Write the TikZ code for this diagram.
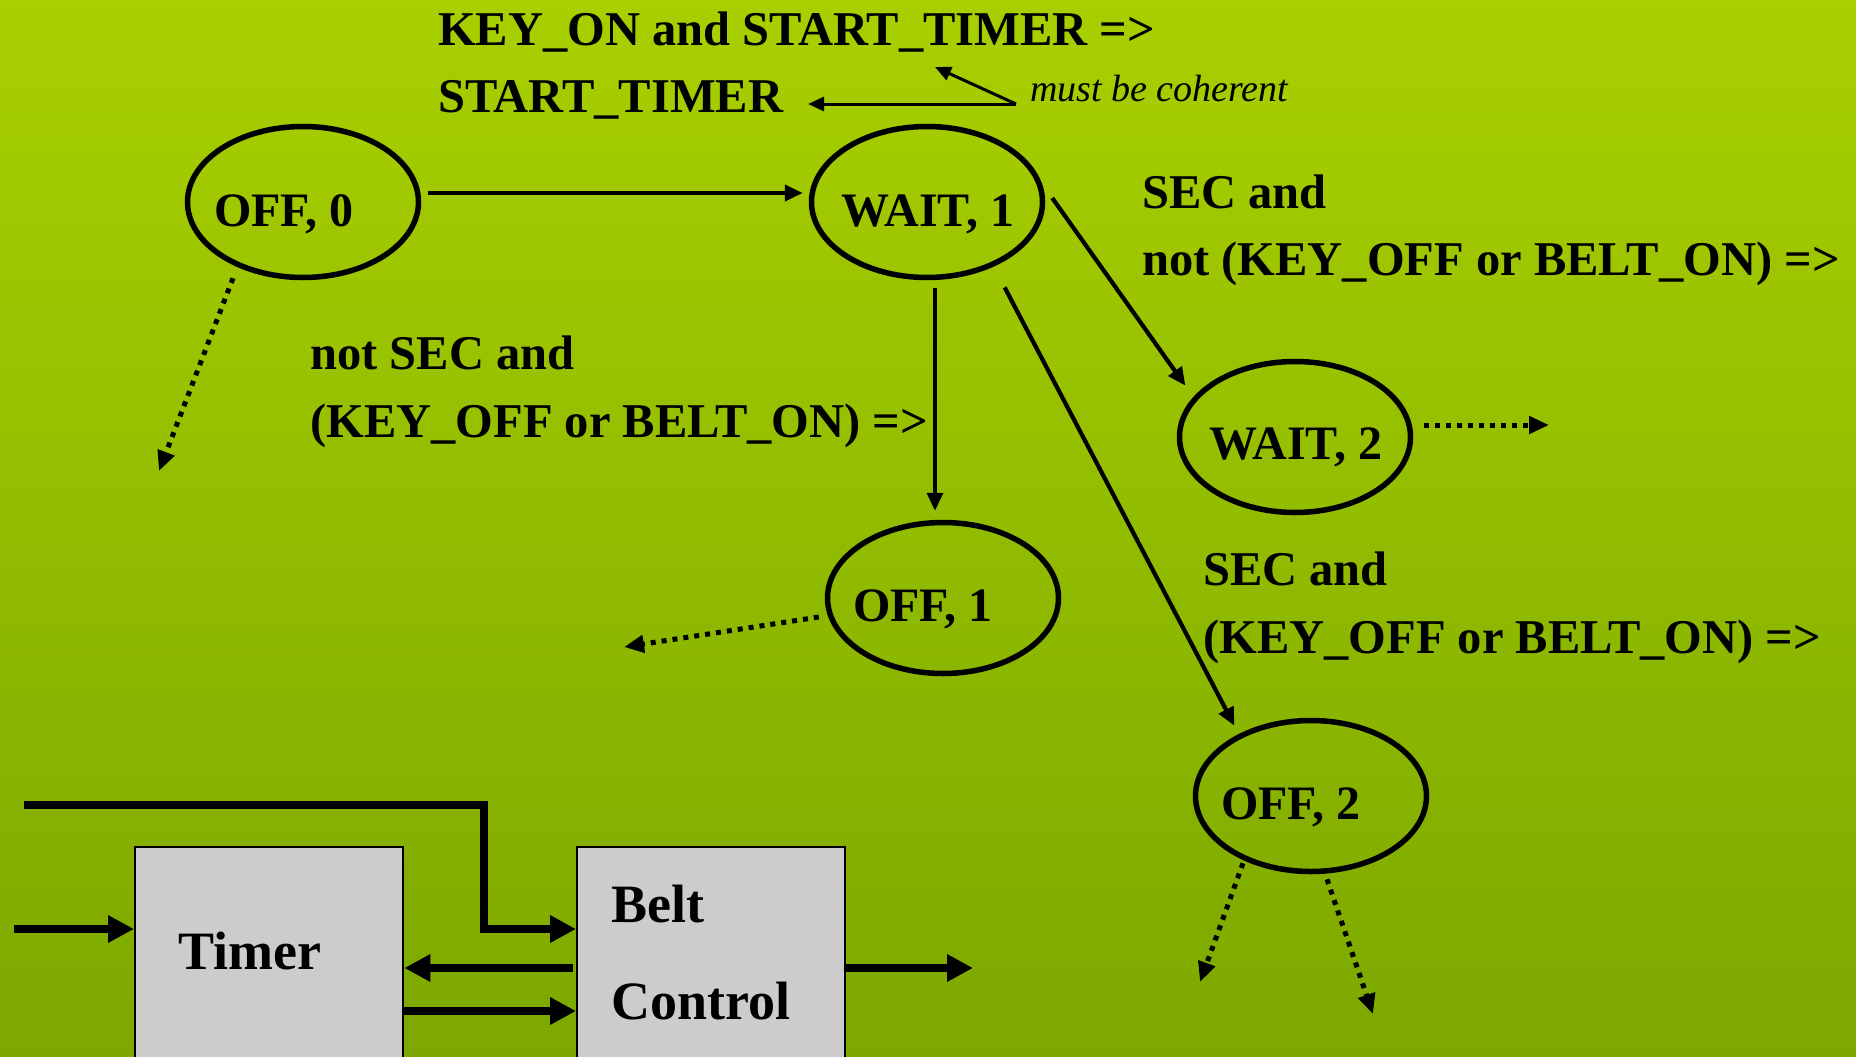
\documentclass[tikz,border=0pt]{standalone}
\usepackage{fontspec}
\setmainfont{Liberation Serif}
\usetikzlibrary{arrows.meta,shapes.geometric,calc}

\definecolor{bgtop}{RGB}{168,208,0}
\definecolor{bgbot}{RGB}{124,168,0}
\definecolor{boxgray}{RGB}{204,204,204}

\begin{document}
\begin{tikzpicture}[x=1pt,y=-1pt,
  state/.style={ellipse, draw=black, line width=5.5pt, minimum width=231pt, minimum height=151pt, inner sep=0pt},
  lbl/.style={font=\fontsize{48.5}{56}\selectfont\bfseries, inner sep=0pt, anchor=base west},
  statelbl/.style={font=\fontsize{48}{56}\selectfont\bfseries, inner sep=0pt, anchor=base},
  note/.style={font=\fontsize{38}{44}\selectfont\itshape, inner sep=0pt, anchor=base west},
  blocklbl/.style={font=\fontsize{54}{60}\selectfont\bfseries, inner sep=0pt, anchor=base west},
  trans/.style={draw=black, line width=4.2pt, -{Triangle[length=18pt,width=16pt]}},
  thinarrow/.style={draw=black, line width=3pt, -{Triangle[length=16pt,width=14pt]}},
  dotarrow/.style={draw=black, line width=5pt, dash pattern=on 5pt off 6pt, -{Triangle[length=20pt,width=17pt]}},
  bigarrow/.style={draw=black, line width=7.5pt, -{Triangle[length=26pt,width=26pt]}},
  blockbox/.style={draw=black, line width=2.4pt, fill=boxgray, anchor=north west, minimum width=268pt, minimum height=260pt, inner sep=0pt}
]
% background
\clip (0,0) rectangle (1856,1057);
\shade[top color=bgtop, bottom color=bgbot] (0,0) rectangle (1856,1057);

% states
\node[state] (off0) at (303,202) {};
\node[state] (w1) at (927,202) {};
\node[state] (w2) at (1295,437) {};
\node[state] (off1) at (943,598) {};
\node[state] (off2) at (1311,796) {};

\node[statelbl] (off0t) at (284,226) {OFF, 0};
\node[statelbl] (w1t) at (928,226) {WAIT, 1};
\node[statelbl] (w2t) at (1296,459) {WAIT, 2};
\node[statelbl] (off1t) at (923,621) {OFF, 1};
\node[statelbl] (off2t) at (1291,819) {OFF, 2};

% transition labels
\node[lbl] (l1a) at (438,46) {KEY\_ON and START\_TIMER =>};
\node[lbl] (l1b) at (438,113) {START\_TIMER};
\node[note] (mbc) at (1030,101) {must be coherent};
\node[lbl] (l2a) at (1142,208) {SEC and};
\node[lbl] (l2b) at (1142,275) {not (KEY\_OFF or BELT\_ON) =>};
\node[lbl] (l3a) at (310,369) {not SEC and};
\node[lbl] (l3b) at (310,437) {(KEY\_OFF or BELT\_ON) =>};
\node[lbl] (l4a) at (1203,585) {SEC and};
\node[lbl] (l4b) at (1203,653) {(KEY\_OFF or BELT\_ON) =>};

% coherence arrows
\coordinate (mbcpt) at (1016,104);
\coordinate (tgt1) at (808,104);
\coordinate (tgt2) at (935,67);
\draw[thinarrow] (mbcpt) -- (tgt1);
\draw[thinarrow] (mbcpt) -- (tgt2);

% transitions
\draw[trans, line width=4.6pt] ([shift={(7,-9)}]off0.east) -- ([shift={(-6,-9)}]w1.west);
\draw[trans, line width=3.6pt] ([shift={(8,8)}]w1.south) -- ([shift={(-8,-9)}]off1.north);
\draw[trans] ([shift={(7,-4)}]w1.east) -- ([shift={(-26,4)}]w2.north west);
\draw[trans] ([shift={(-6,30)}]w1.south east) -- ([shift={(7,-15)}]off2.north west);

% dotted continuations
\coordinate (d0) at (159,471);
\coordinate (d1) at (624,647);
\coordinate (d2) at (1549,425);
\coordinate (d3) at (1200,982);
\coordinate (d4) at (1373,1014);
\draw[dotarrow] ([shift={(-70,-2)}]off0.south) -- (d0);
\draw[dotarrow] ([shift={(-6,19)}]off1.west) -- (d1);
\draw[dotarrow] ([shift={(11,-12)}]w2.east) -- (d2);
\draw[dotarrow] ([shift={(-68,-11)}]off2.south) -- (d3);
\draw[dotarrow] ([shift={(16,5)}]off2.south) -- (d4);

% block diagram
\node[blockbox] (timer) at (134,846) {};
\node[blockbox] (belt) at (576,846) {};
\node[blocklbl] (timert) at (178,969) {Timer};
\node[blocklbl] (beltt1) at (611,922) {Belt};
\node[blocklbl] (beltt2) at (611,1019) {Control};

\coordinate (in1) at (24,805);
\coordinate (corner1) at (484,805);
\coordinate (corner2) at (484,929);
\coordinate (in2) at (14,929);
\coordinate (yA) at (0,968);
\coordinate (yB) at (0,1011);
\coordinate (out1) at (973,968);

\draw[bigarrow] (in1) -- (corner1) -- (corner2) -- (belt.west |- corner2);
\draw[bigarrow] (in2) -- (timer.west |- in2);
\draw[bigarrow] ([xshift=-3pt]belt.west |- yA) -- (timer.east |- yA);
\draw[bigarrow] (timer.east |- yB) -- (belt.west |- yB);
\draw[bigarrow] (belt.east |- yA) -- (out1);
\end{tikzpicture}
\end{document}
